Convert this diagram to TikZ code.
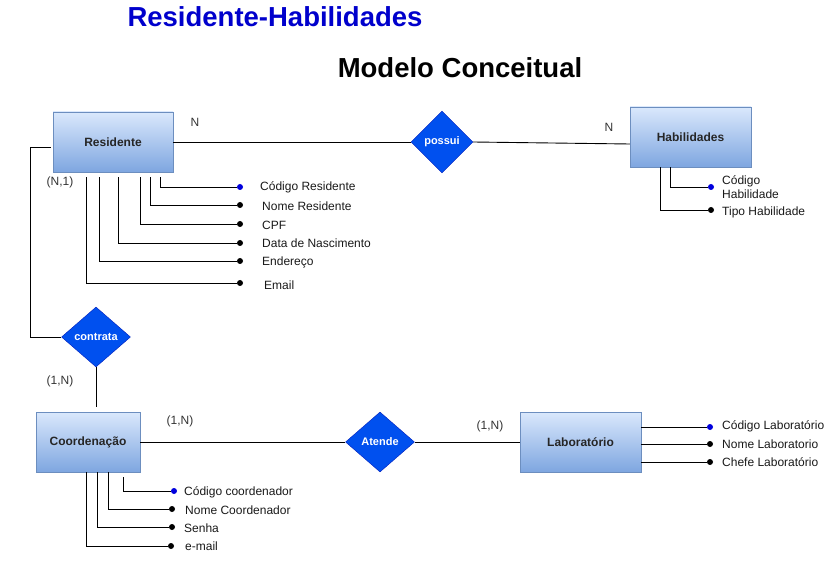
\documentclass[tikz,border=0pt]{standalone}
\usepackage{fontspec}
\setmainfont{Liberation Sans}
\usetikzlibrary{shapes.geometric}
\definecolor{entTop}{HTML}{DAE8FC}
\definecolor{entBot}{HTML}{7EA6E0}
\definecolor{entLine}{HTML}{6C8EBF}
\definecolor{relFill}{HTML}{0050EF}
\definecolor{relLine}{HTML}{001DBC}
\definecolor{keyBlue}{HTML}{0000DD}
\definecolor{titleBlue}{HTML}{0000CC}
\definecolor{cardGray}{HTML}{333333}
\begin{document}
\begin{tikzpicture}[x=1pt,y=-1pt,
  entity/.style={draw=entLine,top color=entTop,bottom color=entBot,minimum width=120pt,minimum height=60pt,inner sep=0pt,font=\fontsize{12}{14}\selectfont\bfseries,text=black!85},
  rel/.style={diamond,draw=relLine,fill=relFill,text=white,inner sep=0pt,font=\fontsize{11}{13}\selectfont\bfseries},
  dotk/.style={circle,fill=keyBlue,inner sep=0pt,minimum size=6pt},
  dota/.style={circle,fill=black,inner sep=0pt,minimum size=6pt},
  attr/.style={anchor=west,inner sep=0pt,font=\fontsize{12}{14}\selectfont,text=black!90},
  card/.style={inner sep=0pt,font=\fontsize{12}{14}\selectfont,text=cardGray},
  conn/.style={draw=black,line width=0.9pt}]
\useasboundingbox (0,0) rectangle (830,561);
% titles
\node[font=\fontsize{27.5}{30}\selectfont\bfseries,text=titleBlue] (t1) at (275,17) {Residente-Habilidades};
\node[font=\fontsize{27.5}{30}\selectfont\bfseries] (t2) at (460,68) {Modelo Conceitual};
% entities
\node[entity] (res) at (113,142) {Residente};
\node[entity,minimum width=121pt] (hab) at (690.5,137) {Habilidades};
\node[entity,minimum width=104pt] (coord) at (88,442) {Coordenação};
\node[entity,minimum width=121pt] (lab) at (580.5,442) {Laboratório};
% relationships
\node[rel,minimum width=62pt,minimum height=62pt] (possui) at (442,142) {possui};
\node[rel,minimum width=69pt,minimum height=60pt] (contrata) at (96,337) {contrata};
\node[rel,minimum width=69pt,minimum height=60pt] (atende) at (380,442) {Atende};
% relationship connectors
\draw[conn] (res.east) -- (possui.west);
\draw[conn] (possui.east) -- ([yshift=-7pt]hab.west);
\draw[conn] ([xshift=-2pt,yshift=-5pt]res.west) -- ++(-20,0) |- (contrata.west);
\draw[conn] (contrata.south) -- ([yshift=5pt]contrata.south |- coord.north);
\draw[conn] (coord.east) -- (atende.west);
\draw[conn] (atende.east) -- (lab.west);
% cardinalities
\node[card] (c1) at (195,122) {N};
\node[card] (c2) at (609,127) {N};
\node[card] (c3) at (60,182) {(N,1)};
\node[card] (c4) at (60,381) {(1,N)};
\node[card] (c5) at (180,421) {(1,N)};
\node[card] (c6) at (490,426) {(1,N)};
% Residente attributes
\node[dotk] (r1) at (240,187) {};
\node[dota] (r2) at (240,205) {};
\node[dota] (r3) at (240,224) {};
\node[dota] (r4) at (240,243) {};
\node[dota] (r5) at (240,261) {};
\node[dota] (r6) at (240,283) {};
\node[attr] (r1t) at (260,187) {Código Residente};
\node[attr] (r2t) at (262,206) {Nome Residente};
\node[attr] (r3t) at (262,225) {CPF};
\node[attr] (r4t) at (262,243) {Data de Nascimento};
\node[attr] (r5t) at (262,262) {Endereço};
\node[attr] (r6t) at (264,285) {Email};
\draw[conn] ([xshift=108pt,yshift=-5pt]res.south west) |- (r1);
\draw[conn] ([xshift=98pt,yshift=-5pt]res.south west) |- (r2);
\draw[conn] ([xshift=88pt,yshift=-5pt]res.south west) |- (r3);
\draw[conn] ([xshift=66pt,yshift=-5pt]res.south west) |- (r4);
\draw[conn] ([xshift=47pt,yshift=-5pt]res.south west) |- (r5);
\draw[conn] ([xshift=34pt,yshift=-5pt]res.south west) |- (r6);
% Habilidades attributes
\node[dotk] (h1) at (711,187) {};
\node[dota] (h2) at (711,210) {};
\node[attr,align=left,font=\fontsize{12}{14}\selectfont] (h1t) at (722,187) {Código\\Habilidade};
\node[attr] (h2t) at (722,212) {Tipo Habilidade};
\draw[conn] ([xshift=41pt]hab.south west) |- (h1);
\draw[conn] ([xshift=31pt]hab.south west) |- (h2);
% Coordenacao attributes
\node[dotk] (k1) at (174,491) {};
\node[dota] (k2) at (172,509) {};
\node[dota] (k3) at (172,527) {};
\node[dota] (k4) at (171,546) {};
\node[attr] (k1t) at (184,492) {Código coordenador};
\node[attr] (k2t) at (185,510) {Nome Coordenador};
\node[attr] (k3t) at (184,528) {Senha};
\node[attr] (k4t) at (185,546) {e-mail};
\draw[conn] ([xshift=88pt,yshift=-5pt]coord.south west) |- (k1);
\draw[conn] ([xshift=73pt]coord.south west) |- (k2);
\draw[conn] ([xshift=62pt]coord.south west) |- (k3);
\draw[conn] ([xshift=51pt]coord.south west) |- (k4);
% Laboratorio attributes
\node[dotk] (l1) at (710,427) {};
\node[dota] (l2) at (710,444) {};
\node[dota] (l3) at (710,462) {};
\node[attr] (l1t) at (722,426) {Código Laboratório};
\node[attr] (l2t) at (722,444) {Nome Laboratorio};
\node[attr] (l3t) at (722,462) {Chefe Laboratório};
\draw[conn] (l1 -| lab.east) -- (l1);
\draw[conn] (l2 -| lab.east) -- (l2);
\draw[conn] (l3 -| lab.east) -- (l3);
\end{tikzpicture}
\end{document}
